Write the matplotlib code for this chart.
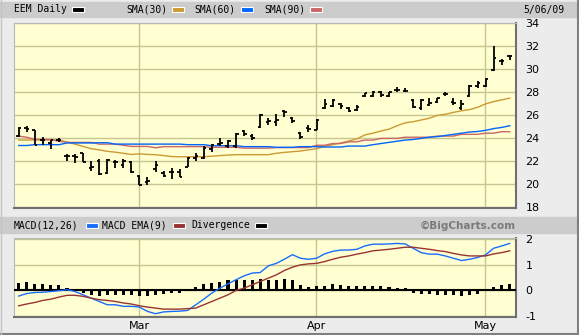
import matplotlib
matplotlib.use("Agg")
import matplotlib.pyplot as plt
import numpy as np
import pandas as pd
from matplotlib.patches import Rectangle
from matplotlib.lines import Line2D
from matplotlib.ticker import FuncFormatter

plt.rcParams['axes.unicode_minus'] = False

W, H = 579, 335

# EEM daily sessions, Feb 6 - May 6 2009 (market shut on 2/16 and 4/10)
dates = pd.bdate_range("2009-02-06", "2009-05-06")
dates = dates[~dates.isin(pd.to_datetime(["2009-02-16", "2009-04-10"]))]

opens = [24.2, 24.9, 24.7, 23.85, 23.6, 23.9, 22.5, 22.5, 22.7, 21.45,
         22.0, 21.0, 21.9, 21.7, 21.9, 20.75, 20.2, 21.3, 21.0, 21.07,
         21.07, 21.53, 22.3, 22.25, 23.1, 23.5, 23.3, 23.3, 24.65, 24.2,
         25.0, 25.45, 25.4, 26.35, 25.75, 24.45, 24.9, 24.75, 26.6, 26.8,
         27.0, 26.6, 26.5, 27.65, 27.7, 28.0, 27.7, 28.2, 28.15, 27.3,
         26.6, 26.9, 27.2, 27.9, 27.2, 26.6, 27.7, 28.6, 28.6, 29.95,
         30.7, 31.2]
highs = [25.0, 25.07, 24.75, 24.1, 23.9, 24.05, 22.67, 22.67, 22.7, 22.0,
         22.2, 22.2, 22.1, 22.2, 22.0, 20.8, 20.67, 22.0, 21.2, 21.4,
         21.35, 22.35, 22.7, 23.3, 23.5, 24.0, 23.85, 24.45, 24.7, 24.4,
         26.1, 25.75, 26.09, 26.46, 25.88, 24.58, 25.16, 25.68, 27.42, 27.39,
         27.07, 26.75, 26.9, 27.97, 28.14, 28.14, 28.06, 28.43, 28.35, 27.39,
         27.39, 27.54, 27.54, 28.06, 27.54, 27.3, 28.64, 28.99, 29.28, 32.0,
         30.9, 31.25]
lows = [24.1, 24.55, 23.4, 23.45, 23.1, 23.7, 22.0, 21.85, 21.95, 21.2,
        20.8, 20.9, 21.4, 21.45, 21.0, 19.9, 19.9, 21.07, 20.6, 20.5,
        20.6, 21.48, 22.0, 22.2, 22.8, 23.3, 23.2, 23.2, 24.2, 23.85,
        24.9, 25.2, 25.1, 25.88, 25.3, 23.94, 24.58, 24.72, 26.55, 26.75,
        26.55, 26.26, 26.38, 27.62, 27.62, 27.62, 27.6, 28.0, 28.0, 26.67,
        26.43, 26.81, 27.1, 27.71, 26.9, 26.46, 27.6, 28.35, 28.49, 29.86,
        30.38, 30.8]
closes = [24.9, 24.85, 23.45, 23.9, 23.9, 23.9, 22.5, 22.4, 21.95, 21.5,
          20.9, 22.1, 21.9, 22.0, 21.1, 19.95, 20.3, 21.7, 20.75, 21.07,
          20.67, 22.3, 22.5, 23.2, 23.4, 23.6, 23.8, 24.4, 24.35, 24.0,
          26.0, 25.55, 25.6, 26.3, 25.5, 24.1, 24.8, 25.6, 26.95, 27.3,
          26.8, 26.4, 26.7, 27.95, 28.0, 27.75, 28.0, 28.2, 28.15, 26.7,
          27.35, 27.1, 27.5, 27.9, 27.1, 27.0, 28.55, 28.8, 29.2, 31.0,
          30.7, 31.2]

sma30 = [23.86, 23.86, 23.86, 23.86, 23.86, 23.86, 23.68, 23.5, 23.3, 23.1,
         23.0, 22.87, 22.8, 22.7, 22.6, 22.65, 22.6, 22.58, 22.5, 22.42,
         22.4, 22.4, 22.4, 22.4, 22.45, 22.5, 22.55, 22.58, 22.58, 22.58,
         22.58, 22.58, 22.7, 22.78, 22.84, 22.9, 23.0, 23.1, 23.3, 23.45,
         23.6, 23.77, 23.95, 24.3, 24.45, 24.64, 24.8, 25.1, 25.35, 25.45,
         25.6, 25.75, 26.0, 26.1, 26.26, 26.4, 26.5, 26.7, 27.0, 27.2,
         27.35, 27.5]
sma60 = [23.38, 23.38, 23.45, 23.45, 23.45, 23.45, 23.6, 23.6, 23.6, 23.6,
         23.62, 23.62, 23.5, 23.5, 23.5, 23.5, 23.5, 23.5, 23.5, 23.5,
         23.5, 23.45, 23.45, 23.45, 23.36, 23.36, 23.36, 23.36, 23.28, 23.28,
         23.28, 23.28, 23.22, 23.22, 23.22, 23.28, 23.28, 23.28, 23.25, 23.25,
         23.25, 23.33, 23.33, 23.33, 23.45, 23.55, 23.65, 23.75, 23.85, 23.9,
         24.0, 24.1, 24.15, 24.25, 24.35, 24.45, 24.55, 24.6, 24.7, 24.85,
         24.95, 25.1]
sma90 = [24.2, 24.1, 23.9, 23.9, 23.9, 23.75, 23.65, 23.65, 23.65, 23.65,
         23.5, 23.5, 23.5, 23.4, 23.3, 23.3, 23.3, 23.18, 23.28, 23.28,
         23.28, 23.28, 23.28, 23.28, 23.22, 23.22, 23.22, 23.22, 23.15, 23.15,
         23.15, 23.15, 23.2, 23.2, 23.2, 23.2, 23.2, 23.4, 23.4, 23.55,
         23.55, 23.7, 23.7, 23.85, 23.85, 24.0, 24.0, 24.0, 24.1, 24.1,
         24.1, 24.1, 24.2, 24.2, 24.2, 24.35, 24.35, 24.35, 24.45, 24.45,
         24.58, 24.58]

macd = [-0.22, -0.12, -0.08, -0.07, -0.04, -0.01, 0.03, -0.04, -0.17, -0.30,
        -0.43, -0.56, -0.56, -0.62, -0.62, -0.65, -0.82, -0.91, -0.84, -0.82,
        -0.81, -0.78, -0.56, -0.34, -0.10, 0.09, 0.26, 0.42, 0.57, 0.68,
        0.70, 0.96, 1.06, 1.22, 1.40, 1.26, 1.22, 1.26, 1.43, 1.53,
        1.58, 1.58, 1.61, 1.74, 1.81, 1.81, 1.82, 1.84, 1.82, 1.65,
        1.48, 1.42, 1.42, 1.35, 1.26, 1.17, 1.22, 1.29, 1.39, 1.65,
        1.74, 1.84]
macd_ema = [-0.60, -0.53, -0.47, -0.39, -0.34, -0.26, -0.19, -0.19, -0.23, -0.30,
            -0.36, -0.39, -0.43, -0.49, -0.53, -0.60, -0.65, -0.69, -0.73, -0.73,
            -0.73, -0.71, -0.69, -0.56, -0.43, -0.30, -0.17, 0.0, 0.09, 0.22,
            0.35, 0.48, 0.61, 0.78, 0.91, 1.0, 1.04, 1.06, 1.13, 1.22,
            1.30, 1.35, 1.42, 1.48, 1.55, 1.58, 1.61, 1.65, 1.69, 1.69,
            1.65, 1.61, 1.56, 1.52, 1.45, 1.39, 1.35, 1.35, 1.35, 1.43,
            1.48, 1.55]
divergence = [0.31, 0.35, 0.26, 0.26, 0.22, 0.22, 0.10, 0.02, -0.08, -0.17,
              -0.23, -0.18, -0.17, -0.17, -0.17, -0.23, -0.23, -0.17, -0.13, -0.10,
              -0.08, 0.06, 0.14, 0.26, 0.31, 0.35, 0.39, 0.42, 0.42, 0.39,
              0.45, 0.42, 0.42, 0.45, 0.39, 0.22, 0.13, 0.16, 0.18, 0.26,
              0.22, 0.18, 0.16, 0.18, 0.16, 0.16, 0.13, 0.10, 0.10, -0.08,
              -0.13, -0.13, -0.19, -0.17, -0.19, -0.23, -0.17, -0.13, 0.02, 0.13,
              0.22, 0.26]

price_ticks = list(range(18, 35, 2))
macd_ticks = [-1, 0, 1, 2]

PANEL = '#ffffd2'
GRID = '#c6c690'
GRAY_BAND = '#cccccc'
C30, C60, C90 = '#cc9933', '#0066ff', '#cc6666'
C_MACD, C_EMA = '#1a6cff', '#993333'


def fx(px):
    return px / W


def fy(py):
    return 1 - py / H


def band(y0, y1):
    fig.patches.append(Rectangle((0, fy(y1)), fx(577), (y1 - y0) / H,
                                 transform=fig.transFigure, color=GRAY_BAND, zorder=0))


def swatch(x0, x1, y0, y1, color):
    fig.patches.append(Rectangle((fx(x0), fy(y1)), (x1 - x0) / W, (y1 - y0) / H,
                                 transform=fig.transFigure, facecolor=color,
                                 edgecolor='white', lw=0.8, zorder=2))


def label(x, y, s, **kw):
    fig.text(fx(x), fy(y), s, family='DejaVu Sans Mono', size=7, va='center', **kw)


def style_panel(ax, yticks, ylim):
    ax.set_facecolor(PANEL)
    for side in ('top', 'left'):
        ax.spines[side].set_color('#b8b8b8')
        ax.spines[side].set_linewidth(0.8)
    for side in ('right', 'bottom'):
        ax.spines[side].set_color('#707070')
        ax.spines[side].set_linewidth(1.5)
    ax.set_xlim(-0.58, 61.74)
    ax.set_ylim(*ylim)
    ax.yaxis.tick_right()
    ax.set_yticks(yticks)
    ax.set_xticks(month_idx)
    ax.tick_params(axis='y', length=0, pad=7, labelsize=8)
    ax.tick_params(axis='x', length=0)
    # grid as plain data lines under everything else
    ax.hlines(yticks, -0.58, 61.74, colors=GRID, linewidth=1.0, zorder=2)
    ax.vlines([m - 0.1 for m in month_idx], ylim[0], ylim[1], colors=GRID,
              linewidth=1.0, zorder=2)


fig = plt.figure(figsize=(W / 100, H / 100), dpi=100, facecolor='#ececec')

# outer bevel
fig.add_artist(Line2D([fx(577.5), fx(577.5)], [0, 1], color='#808080', lw=1.5))
fig.add_artist(Line2D([0, 1], [fy(334), fy(334)], color='#808080', lw=1.5))
fig.add_artist(Line2D([fx(0.5), fx(0.5)], [0, 1], color='#c4c4c4', lw=1))

x = np.arange(len(dates))
month_idx = [i for i in range(1, len(dates)) if dates[i].month != dates[i - 1].month]
month_lbl = [dates[i].strftime('%b') for i in month_idx]

# price panel
band(2, 17)
ax1 = fig.add_axes([fx(14), fy(208), (515.7 - 14) / W, 185 / H])
style_panel(ax1, price_ticks, (17.94, 34.04))
ax1.set_xticklabels([])
ax1.plot(x, sma30, color=C30, lw=1.0, zorder=3)
ax1.plot(x, sma90, color=C90, lw=1.0, zorder=3)
ax1.plot(x, sma60, color=C60, lw=1.0, zorder=3)
ax1.vlines(x, lows, highs, color='black', lw=1.3, zorder=4)
ax1.hlines(opens, x - 0.32, x, color='black', lw=1.3, zorder=4)
ax1.hlines(closes, x, x + 0.32, color='black', lw=1.3, zorder=4)

label(14, 9.5, 'EEM Daily')
swatch(72, 84, 7, 12, 'black')
label(126, 9.5, 'SMA(30)')
swatch(172, 184, 7, 12, C30)
label(194, 9.5, 'SMA(60)')
swatch(241, 253, 7, 12, C60)
label(264, 9.5, 'SMA(90)')
swatch(310, 322, 7, 12, C90)
last = dates[-1]
label(523, 9.5, f"{last.month}/{last.day:02d}/{last.year % 100:02d}")

# MACD panel
band(217, 233)
ax2 = fig.add_axes([fx(14), fy(317.3), (515.7 - 14) / W, 79 / H])
style_panel(ax2, macd_ticks, (-1.05, 2.04))
ax2.yaxis.set_major_formatter(FuncFormatter(lambda v, _: f"{v:.0f}"))
ax2.set_xticklabels(month_lbl)
ax2.tick_params(axis='x', pad=3, labelsize=8)
ax2.bar(x, divergence, width=0.38, color='black', zorder=3)
ax2.axhline(0, color='black', lw=1.5, zorder=3)
ax2.plot(x, macd, color=C_MACD, lw=1.0, zorder=4)
ax2.plot(x, macd_ema, color=C_EMA, lw=1.0, zorder=4)

label(14, 225.5, 'MACD(12,26)')
swatch(86, 98, 223, 228, C_MACD)
label(102, 225.5, 'MACD EMA(9)')
swatch(173, 185, 223, 228, C_EMA)
label(191, 225.5, 'Divergence')
swatch(255, 267, 223, 228, 'black')
fig.text(fx(516), fy(225.5), '\u00a9BigCharts.com', ha='right', va='center',
         weight='bold', color='#7a7a7a', size=7.5)

fig.savefig('out.png', dpi=100, facecolor=fig.get_facecolor())
